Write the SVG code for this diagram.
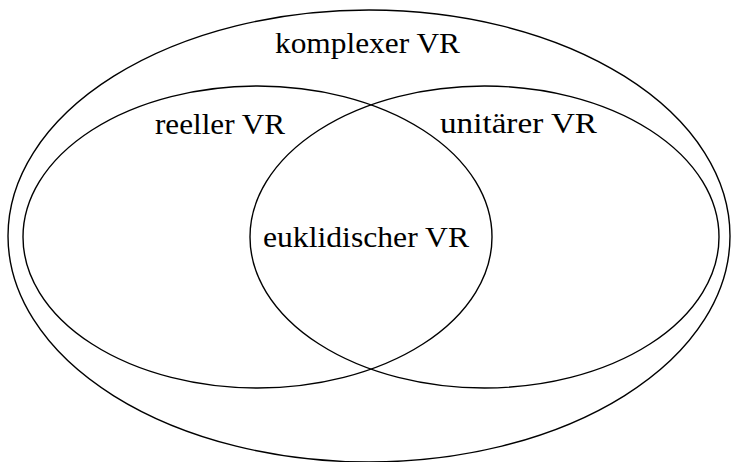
<svg xmlns="http://www.w3.org/2000/svg" width="731" height="462" viewBox="0 0 731 462">
<style>
.set{fill:none;stroke:#000;stroke-width:1.4}
.lbl{font-family:"Liberation Serif","DejaVu Serif",serif;font-size:29px;fill:#000;text-anchor:middle}
</style>
<rect width="731" height="462" fill="#fff"/>
<g id="komplex">
<ellipse class="set" cx="369" cy="236" rx="361" ry="226"/>
<text class="lbl" x="367.5" y="53" textLength="185" lengthAdjust="spacingAndGlyphs">komplexer VR</text>
</g>
<g id="reell">
<ellipse class="set" cx="257.5" cy="237" rx="234.5" ry="151"/>
<text class="lbl" x="220" y="134" textLength="130" lengthAdjust="spacingAndGlyphs">reeller VR</text>
</g>
<g id="unitaer">
<ellipse class="set" cx="484.5" cy="237" rx="234.5" ry="151"/>
<text class="lbl" x="518.5" y="133" textLength="157" lengthAdjust="spacingAndGlyphs">unitärer VR</text>
</g>
<g id="euklidisch">
<text class="lbl" x="366" y="247" textLength="206" lengthAdjust="spacingAndGlyphs">euklidischer VR</text>
</g>
<g id="connectors"></g>
</svg>
